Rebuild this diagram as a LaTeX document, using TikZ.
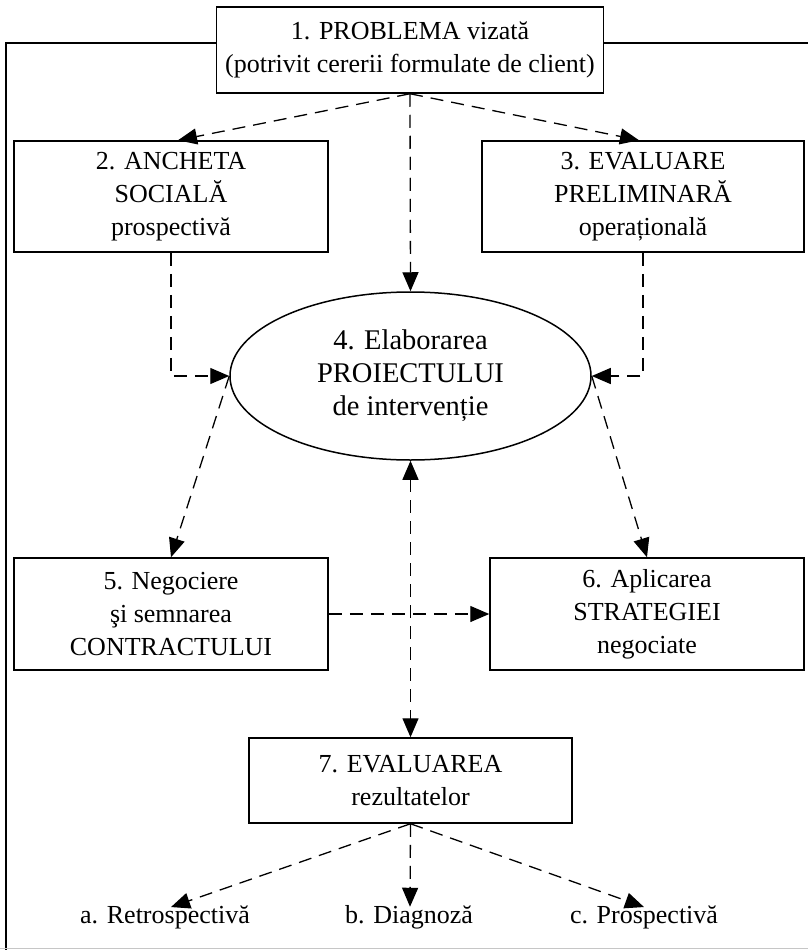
\documentclass[tikz,border=0pt]{standalone}
\usepackage{fontspec}
\setmainfont{Liberation Serif}
\usetikzlibrary{arrows.meta,shapes.geometric}
\begin{document}
\begin{tikzpicture}[x=1pt,y=-1pt,
  box/.style={draw,line width=1.5pt,fill=white,align=center,inner sep=0pt,
    font=\fontsize{26}{33}\selectfont},
  oval/.style={ellipse,draw,line width=1.5pt,fill=white,align=center,inner sep=0pt,
    font=\fontsize{28.5}{33}\selectfont},
  lbl/.style={inner sep=0pt,anchor=base,font=\fontsize{26}{33}\selectfont},
  tip/.tip={Triangle[length=19pt,width=16pt]},
  link/.style={line width=1.3pt,dash pattern=on 13pt off 8pt,-tip},
  both/.style={line width=1.3pt,dash pattern=on 13pt off 8pt,tip-tip},
  frameline/.style={line width=1.3pt}]
\useasboundingbox (0,0) rectangle (808,950);

% outer frame
\draw[frameline] (6,950) -- (6,43) -- (808,43);
\draw[gray!45,line width=1.5pt] (0,948.5) -- (808,948.5);

% boxes
\node[box,minimum width=387,minimum height=86] (b1) at (410,50)
  {1. PROBLEMA vizată\\(potrivit cererii formulate de client)};
\node[box,minimum width=314,minimum height=111] (b2) at (171,196.5)
  {2. ANCHETA\\SOCIALĂ\\prospectivă};
\node[box,minimum width=322,minimum height=111] (b3) at (643,196.5)
  {3. EVALUARE\\PRELIMINARĂ\\operațională};
\node[oval,minimum width=361,minimum height=168] (e) at (410.5,376)
  {4. Elaborarea\\PROIECTULUI\\de intervenție};
\node[box,minimum width=314,minimum height=112] (b5) at (171,614)
  {5. Negociere\\şi semnarea\\CONTRACTULUI};
\node[box,minimum width=314,minimum height=112] (b6) at (647,614)
  {6. Aplicarea\\STRATEGIEI\\negociate};
\node[box,minimum width=323,minimum height=85] (b7) at (410.5,780.5)
  {7. EVALUAREA\\rezultatelor};

% result labels
\node[lbl] (la) at (165,923) {a. Retrospectivă};
\node[lbl] (lb) at (409,923) {b. Diagnoză};
\node[lbl] (lc) at (644,923) {c. Prospectivă};

% connectors
\draw[link] (b1.south) -- ([xshift=7]b2.north);
\draw[link] (b1.south) -- ([xshift=-4]b3.north);
\draw[link] (b1.south) -- (e.north);
\draw[link] (b2.south) |- (e.west);
\draw[link] (b3.south) |- (e.east);
\draw[link] (e.west) -- (b5.north);
\draw[link] (e.east) -- (b6.north);
\draw[link] (b5.east) -- (b6.west);
\draw[both] (e.south) -- (b7.north);
\draw[link] (b7.south) -- ([xshift=6,yshift=-2]la.north);
\draw[link] (b7.south) -- ([xshift=1,yshift=-2]lb.north);
\draw[link] (b7.south) -- ([yshift=-2]lc.north);
\end{tikzpicture}
\end{document}
